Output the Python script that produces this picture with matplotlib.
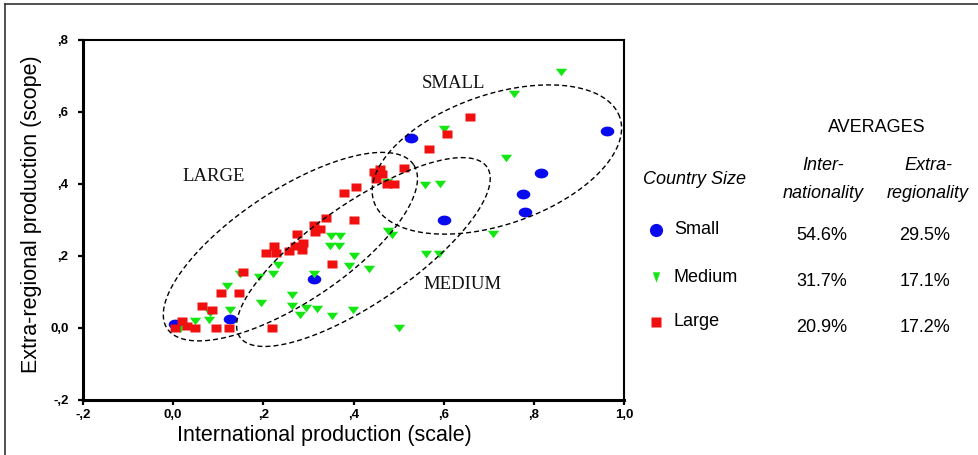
import numpy as np
import matplotlib
matplotlib.use("Agg")
import matplotlib.pyplot as plt
from matplotlib.lines import Line2D

# ---- data -------------------------------------------------------------
small_x = [0.003, 0.125, 0.313, 0.527, 0.962, 0.816, 0.776, 0.780, 0.601]
small_y = [0.010, 0.024, 0.135, 0.529, 0.546, 0.430, 0.371, 0.321, 0.301]

medium_x = [0.861, 0.757, 0.600, 0.739, 0.559, 0.592, 0.476, 0.486, 0.709, 0.474,
            0.349, 0.369, 0.347, 0.367, 0.561, 0.589, 0.402, 0.389, 0.434, 0.313,
            0.264, 0.264, 0.295, 0.318, 0.282, 0.353, 0.399, 0.500, 0.232, 0.221,
            0.191, 0.149, 0.119, 0.195, 0.127, 0.082, 0.079, 0.049, 0.016]
medium_y = [0.712, 0.651, 0.553, 0.472, 0.396, 0.401, 0.269, 0.257, 0.262, 0.405,
            0.255, 0.255, 0.227, 0.229, 0.205, 0.205, 0.201, 0.172, 0.164, 0.149,
            0.093, 0.062, 0.056, 0.053, 0.035, 0.033, 0.049, -0.001, 0.174, 0.151,
            0.142, 0.151, 0.118, 0.070, 0.051, 0.042, 0.021, 0.019, -0.004]

large_x = [0.005, 0.020, 0.031, 0.049, 0.064, 0.086, 0.094, 0.106, 0.123, 0.145,
           0.156, 0.219, 0.207, 0.227, 0.223, 0.256, 0.271, 0.286, 0.289, 0.275,
           0.312, 0.326, 0.315, 0.340, 0.402, 0.352, 0.380, 0.406, 0.445, 0.458,
           0.463, 0.451, 0.474, 0.489, 0.513, 0.567, 0.607, 0.659]
large_y = [0.000, 0.019, 0.005, 0.000, 0.061, 0.051, 0.000, 0.096, 0.000, 0.098,
           0.155, 0.000, 0.207, 0.207, 0.227, 0.213, 0.227, 0.216, 0.235, 0.260,
           0.285, 0.276, 0.266, 0.306, 0.301, 0.179, 0.376, 0.392, 0.433, 0.442,
           0.429, 0.414, 0.401, 0.401, 0.444, 0.496, 0.540, 0.587]

x_ticks = [-0.2, 0.0, 0.2, 0.4, 0.6, 0.8, 1.0]
x_tick_labels = ["-,2", "0,0", ",2", ",4", ",6", ",8", "1,0"]
y_ticks = [-0.2, 0.0, 0.2, 0.4, 0.6, 0.8]
y_tick_labels = ["-,2", "0,0", ",2", ",4", ",6", ",8"]

size_labels = ["Small", "Medium", "Large"]
inter_avg = ["54.6%", "31.7%", "20.9%"]
extra_avg = ["29.5%", "17.1%", "17.2%"]

# ---- styling ----------------------------------------------------------
BLUE = "#0a0aee"
GREEN = "#14e614"
RED = "#f01010"
SANS = ["Liberation Sans", "DejaVu Sans"]
SERIF = ["Liberation Serif", "DejaVu Serif"]
plt.rcParams["font.family"] = SANS

W, H = 979, 455
fig = plt.figure(figsize=(W / 100, H / 100), dpi=100)
ax = fig.add_axes([83 / W, 1 - 400 / H, (624 - 83) / W, (400 - 40) / H])
XMIN, XMAX, YMIN, YMAX = -0.2, 1.0, -0.2, 0.8
ax.set_xlim(XMIN, XMAX)
ax.set_ylim(YMIN, YMAX)

# marker shapes: flattened oval, flat down-triangle, flat rectangle
tt = np.linspace(0, 2 * np.pi, 41)
oval = list(zip(np.cos(tt), 0.72 * np.sin(tt)))
tri_down = [(-1, 0.66), (1, 0.66), (0, -0.66), (-1, 0.66)]
rect = [(-1, -0.74), (1, -0.74), (1, 0.74), (-1, 0.74), (-1, -0.74)]

ax.plot(small_x, small_y, ls="none", marker=oval, ms=9.8, mfc=BLUE, mec="none", zorder=3)
ax.plot(medium_x, medium_y, ls="none", marker=tri_down, ms=8.2, mfc=GREEN, mec="none", zorder=4)
ax.plot(large_x, large_y, ls="none", marker=rect, ms=7.6, mfc=RED, mec="none", zorder=5)


def dashed_ellipse(cx, cy, a_px, b_px, angle_deg):
    """Ellipse whose axes are given in screen pixels, centred at a data point."""
    pos = ax.get_position()
    sx = pos.width * W / (XMAX - XMIN)
    sy = pos.height * H / (YMAX - YMIN)
    t = np.linspace(0, 2 * np.pi, 400)
    th = np.radians(angle_deg)
    dx = a_px * np.cos(t) * np.cos(th) - b_px * np.sin(t) * np.sin(th)
    dy = a_px * np.cos(t) * np.sin(th) + b_px * np.sin(t) * np.cos(th)
    ax.plot(cx + dx / sx, cy + dy / sy, color="black", lw=1.0,
            ls=(0, (3.6, 2.2)), zorder=6)


dashed_ellipse(0.260, 0.226, 148, 56, 33.6)   # large countries
dashed_ellipse(0.422, 0.211, 150, 50, 34.5)   # medium countries
dashed_ellipse(0.718, 0.468, 130, 65, 19.0)   # small countries

ax.text(0.089, 0.421, "LARGE", family=SERIF, fontsize=13.5, ha="center", va="center", color="#111111")
ax.text(0.621, 0.679, "SMALL", family=SERIF, fontsize=13.5, ha="center", va="center", color="#111111")
ax.text(0.641, 0.121, "MEDIUM", family=SERIF, fontsize=13.5, ha="center", va="center", color="#111111")

# axes frame and ticks
ax.spines["left"].set_linewidth(2.2)
ax.spines["bottom"].set_linewidth(2.2)
ax.spines["top"].set_linewidth(1.5)
ax.spines["right"].set_linewidth(1.5)
ax.set_xticks(x_ticks)
ax.set_xticklabels(x_tick_labels, fontsize=9.5, fontweight="bold")
ax.set_yticks(y_ticks)
ax.set_yticklabels(y_tick_labels, fontsize=9.5, fontweight="bold")
ax.tick_params(axis="both", direction="out", length=3.5, width=1.6)
ax.tick_params(axis="x", pad=3)
ax.tick_params(axis="y", pad=7)

fig.text(324 / W, 1 - 436 / H, "International production (scale)", fontsize=15.5,
         ha="center", va="center")
fig.text(32 / W, 1 - 214 / H, "Extra-regional production (scope)", fontsize=15.5,
         ha="center", va="center", rotation=90)

# outer frame (top and left edges)
fig.add_artist(Line2D([5 / W, 5 / W], [0, 1 - 4 / H], transform=fig.transFigure,
                      color="#333333", lw=1.2))
fig.add_artist(Line2D([5 / W, 1], [1 - 4 / H, 1 - 4 / H], transform=fig.transFigure,
                      color="#333333", lw=1.2))

# averages table
def ftxt(px, py, s, **kw):
    fig.text(px / W, 1 - py / H, s, fontsize=13, va="center", **kw)


ftxt(877, 128, "AVERAGES", ha="center")
ftxt(643, 180, "Country Size", ha="left", style="italic")
ftxt(823, 166, "Inter-", ha="center", style="italic")
ftxt(823, 193, "nationality", ha="center", style="italic")
ftxt(928, 166, "Extra-", ha="center", style="italic")
ftxt(928, 193, "regionality", ha="center", style="italic")

legend_markers = [
    dict(marker="o", ms=9.5, mfc=BLUE),
    dict(marker=[(-0.7, 1), (0.7, 1), (0, -1), (-0.7, 1)], ms=7.5, mfc=GREEN),
    dict(marker="s", ms=7.2, mfc=RED),
]
row_y = [230, 277, 322]
for lbl, ia, ea, ry, mk in zip(size_labels, inter_avg, extra_avg, row_y, legend_markers):
    fig.add_artist(Line2D([656 / W], [1 - ry / H], transform=fig.transFigure,
                          ls="none", mec="none", **mk))
    ftxt(674, ry, lbl, ha="left")
    ftxt(822, ry + 5, ia, ha="center")
    ftxt(925, ry + 5, ea, ha="center")

fig.savefig("out.png", dpi=100)
